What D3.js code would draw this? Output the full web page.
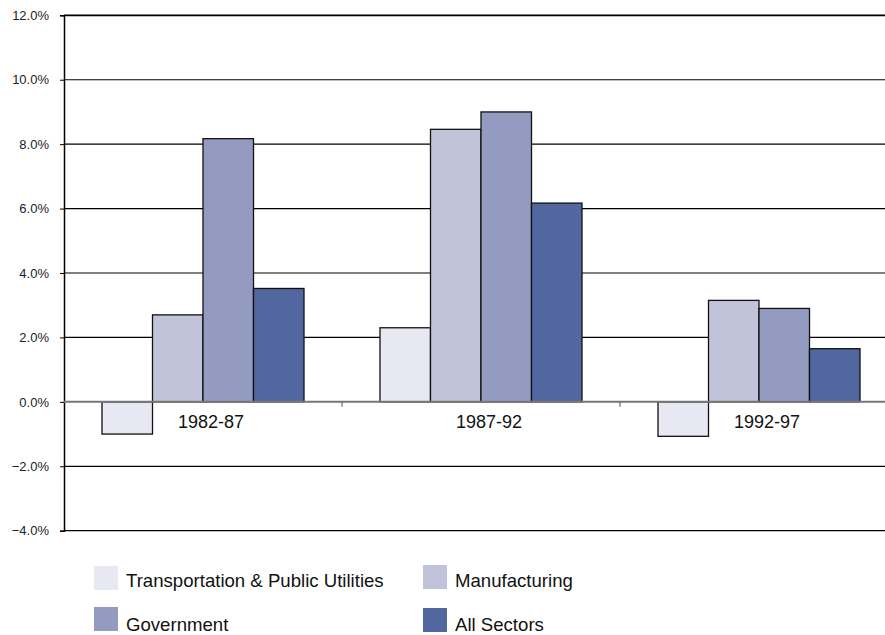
<!DOCTYPE html>
<html><head><meta charset="utf-8">
<script src="https://cdn.jsdelivr.net/npm/d3@7"></script>
<style>html,body{margin:0;padding:0;background:#fff;overflow:hidden}</style>
</head><body>
<svg id="c" width="885" height="635"></svg>
<script>
const categories = ["1982-87", "1987-92", "1992-97"];
const seriesNames = ["Transportation & Public Utilities", "Manufacturing", "Government", "All Sectors"];
const transportation = [-1.0, 2.3, -1.07];
const manufacturing = [2.7, 8.46, 3.15];
const government = [8.17, 9.0, 2.9];
const allSectors = [3.52, 6.17, 1.65];
const yTicks = [-4, -2, 0, 2, 4, 6, 8, 10, 12];
const colors = ["#E8E8F2", "#C0C3DA", "#939CC0", "#52679F"];

const series = [transportation, manufacturing, government, allSectors];
const svg = d3.select("#c");
const font = "Arial, 'Liberation Sans', sans-serif";

const y = d3.scaleLinear().domain([-4, 12]).range([530.7, 15.3]);
const x0 = d3.scaleBand().domain(categories).range([64, 898]).padding(0);
const x1 = d3.scaleBand().domain(seriesNames).range([38, 240]).padding(0);

// gridlines
svg.append("g").selectAll("line").data(yTicks.filter(d => d !== 0)).join("line")
  .attr("x1", 64).attr("x2", 885)
  .attr("y1", d => y(d)).attr("y2", d => y(d))
  .attr("stroke", "#000").attr("stroke-width", d => d === 12 ? 1.8 : 1.2);

// y axis
const yAxis = d3.axisLeft(y).tickValues(yTicks).tickSize(4).tickPadding(11)
  .tickFormat(d => d3.format(".1f")(d) + "%");
const ga = svg.append("g").attr("transform", "translate(64,0)").call(yAxis);
ga.select(".domain").attr("stroke", "#000").attr("stroke-width", 1.5);
ga.selectAll(".tick line").attr("stroke", "#000");
ga.selectAll(".tick text").attr("font-family", font).attr("font-size", 13).attr("fill", "#222");

// bars
const groups = svg.append("g").selectAll("g").data(categories).join("g")
  .attr("transform", d => `translate(${x0(d)},0)`);
groups.selectAll("rect").data((d, i) => seriesNames.map((s, j) => ({s, j, v: series[j][i]}))).join("rect")
  .attr("x", d => x1(d.s)).attr("width", x1.bandwidth())
  .attr("y", d => y(Math.max(0, d.v)))
  .attr("height", d => Math.abs(y(d.v) - y(0)))
  .attr("fill", d => colors[d.j]).attr("stroke", "#111").attr("stroke-width", 1.3);

// zero line
svg.append("line").attr("x1", 64).attr("x2", 885).attr("y1", y(0)).attr("y2", y(0))
  .attr("stroke", "#777").attr("stroke-width", 2);
// category separators
svg.append("g").selectAll("line").data(categories.slice(1)).join("line")
  .attr("x1", d => x0(d)).attr("x2", d => x0(d))
  .attr("y1", y(0)).attr("y2", y(0) + 5).attr("stroke", "#555").attr("stroke-width", 1);

// category labels
svg.append("g").selectAll("text").data(categories).join("text")
  .attr("x", d => x0(d) + x0.bandwidth() / 2 + 8).attr("y", 428)
  .attr("text-anchor", "middle").attr("font-family", font).attr("font-size", 18)
  .attr("fill", "#111").text(d => d);

// legend
const legendPos = [[94, 566, 587], [423, 565, 587], [94, 607, 631], [423, 608, 631]];
const lg = svg.append("g").selectAll("g").data(seriesNames).join("g");
lg.append("rect").attr("x", (d, i) => legendPos[i][0]).attr("y", (d, i) => legendPos[i][1])
  .attr("width", 24).attr("height", 24).attr("fill", (d, i) => colors[i]);
lg.append("text").attr("x", (d, i) => legendPos[i][0] + 32).attr("y", (d, i) => legendPos[i][2])
  .attr("font-family", font).attr("font-size", 18.6).attr("fill", "#111").text(d => d);
</script>
</body></html>
